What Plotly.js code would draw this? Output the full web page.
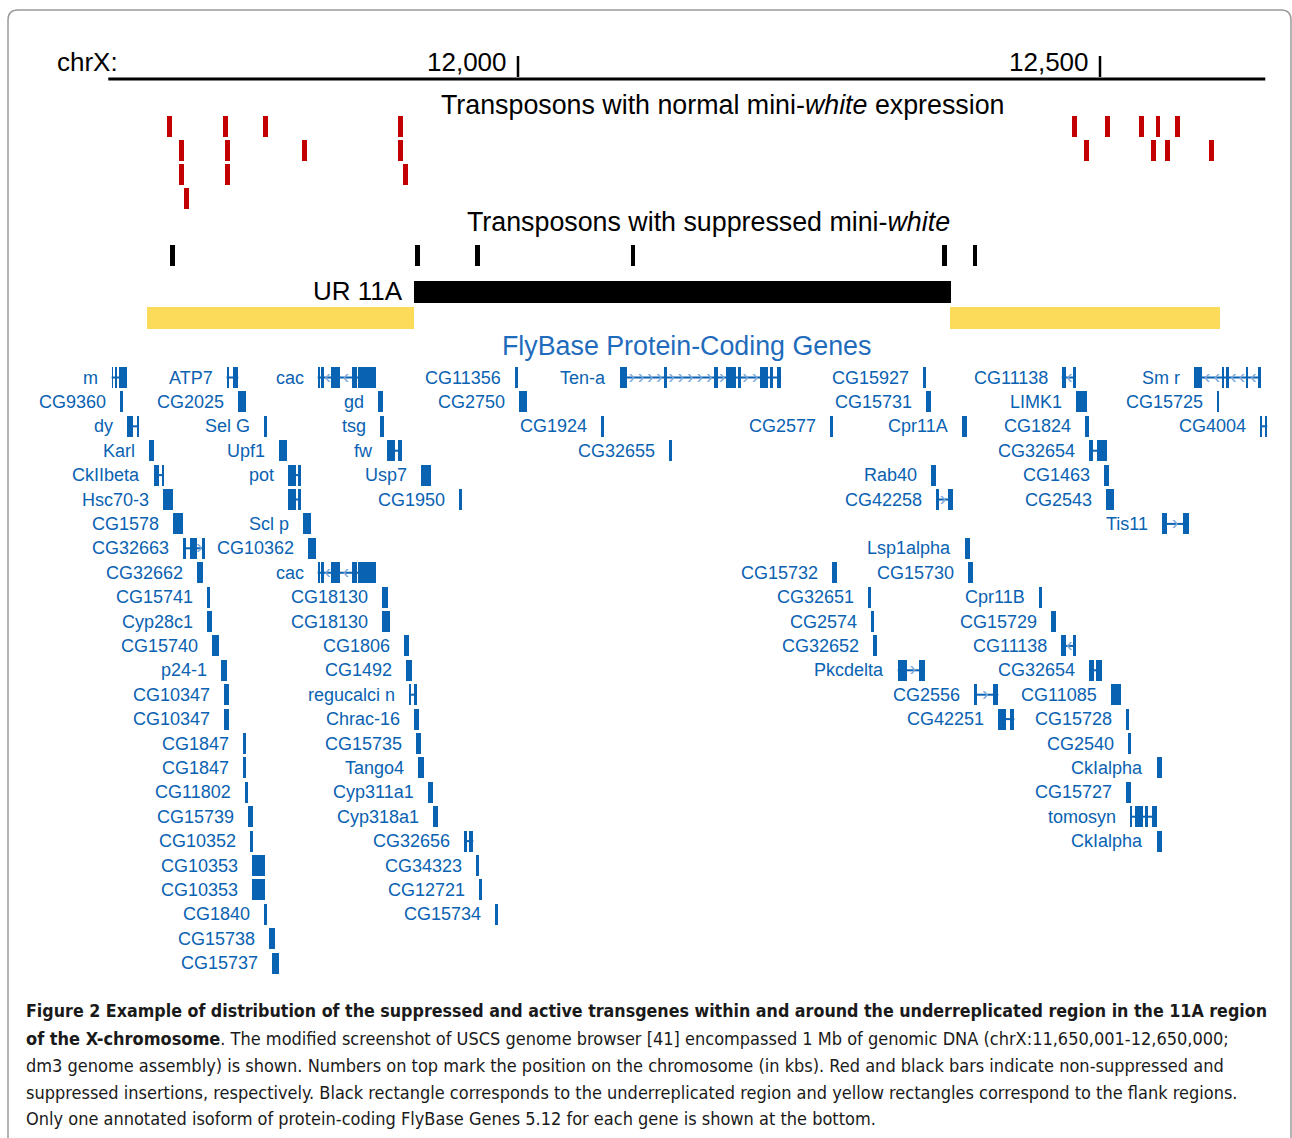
<!DOCTYPE html>
<html><head><meta charset="utf-8">
<script src="https://cdn.plot.ly/plotly-3.0.1.min.js"></script>
<style>html,body{margin:0;padding:0;background:#fff}#chart{width:1292px;height:1138px}</style>
</head><body><div id="chart"></div>
<script>
// ---------------- DATA (positions in kb on chrX) ----------------
const rulerKb = [11648, 12642];
const tickKb = [12000, 12500];
const tickLabels = ['12,000', '12,500'];

// transposons with normal mini-white expression (red), stack row 1..4
const normalKb  = [11700.7, 11711.0, 11711.0, 11715.3, 11748.7, 11750.5, 11750.5, 11782.9, 11816.8, 11899.1, 11899.1, 11903.4,
                   12478.1, 12488.4, 12506.6, 12535.8, 12546.1, 12549.8, 12557.9, 12566.8, 12596.0];
const normalRow = [1, 2, 3, 4, 1, 2, 3, 1, 2, 1, 2, 3,
                   1, 2, 1, 1, 2, 1, 2, 1, 2];
// transposons with suppressed mini-white (black)
const suppressedKb = [11703.2, 11913.7, 11965.3, 12098.8, 12366.6, 12392.6];
// underreplicated region UR 11A and flanks
const urKb = [11910.8, 12372.0];
const flankStartKb = [11681.4, 12371.1];
const flankEndKb   = [11910.8, 12602.7];

// FlyBase protein-coding genes: name, track row, exons [start, end] kb, strand
const geneNames = [
 'm','CG9360','dy','Karl','CkIIbeta','Hsc70-3','CG1578','CG32663','CG32662','CG15741','Cyp28c1','CG15740','p24-1',
 'CG10347','CG10347','CG1847','CG1847','CG11802','CG15739','CG10352','CG10353','CG10353','CG1840','CG15738','CG15737',
 'ATP7','CG2025','Sel G','Upf1','pot','','Scl p','CG10362','cac','cac','CG18130','CG18130','CG1806','CG1492',
 'regucalci n','Chrac-16','CG15735','Tango4','Cyp311a1','Cyp318a1','CG32656','CG34323','CG12721','CG15734',
 'gd','tsg','fw','Usp7','CG1950','CG11356','CG2750','CG1924','CG32655','Ten-a',
 'CG15927','CG15731','CG2577','Cpr11A','Rab40','CG42258','Lsp1alpha','CG15732','CG15730','CG32651','CG2574','CG32652',
 'Pkcdelta','CG2556','CG42251',
 'CG11138','LIMK1','CG1824','CG32654','CG1463','CG2543','Tis11','Cpr11B','CG15729','CG11138','CG32654','CG11085',
 'CG15728','CG2540','CkIalpha','CG15727','tomosyn','CkIalpha','Sm r','CG15725','CG4004'];
const geneRows = [
 0,1,2,3,4,5,6,7,8,9,10,11,12,
 13,14,15,16,17,18,19,20,21,22,23,24,
 0,1,2,3,4,5,6,7,0,8,9,10,11,12,
 13,14,15,16,17,18,19,20,21,22,
 1,2,3,4,5,0,1,2,3,0,
 0,1,2,2,4,5,7,8,8,9,10,11,
 12,13,14,
 0,1,2,3,4,5,6,9,10,11,12,13,
 14,15,16,17,18,19,0,1,2];
const geneExons = [
 [[11650.9,11652.2],[11653.8,11655.5],[11657.5,11663.8]],
 [[11658.1,11660.4]],
 [[11664.3,11669.5],[11672.4,11674.4]],
 [[11683.0,11687.0]],
 [[11687.3,11691.8],[11693.9,11695.9]],
 [[11695.3,11703.3]],
 [[11703.9,11712.5]],
 [[11712.5,11714.5],[11718.2,11724.0],[11728.3,11731.1]],
 [[11724.0,11729.6]],
 [[11733.1,11735.4]],
 [[11733.1,11737.1]],
 [[11737.1,11743.1]],
 [[11744.8,11749.7]],
 [[11747.4,11751.7]],
 [[11747.4,11751.7]],
 [[11763.5,11766.3]],
 [[11763.5,11766.3]],
 [[11765.5,11768.0]],
 [[11768.0,11772.1]],
 [[11769.8,11772.1]],
 [[11771.7,11782.6]],
 [[11771.7,11782.6]],
 [[11781.8,11784.1]],
 [[11786.3,11791.2]],
 [[11788.7,11794.7]],
 [[11749.7,11751.7],[11755.4,11759.7]],
 [[11759.7,11766.3]],
 [[11782.0,11784.1]],
 [[11794.9,11801.3]],
 [[11802.7,11809.3],[11811.3,11813.6]],
 [[11802.7,11809.3],[11811.3,11813.6]],
 [[11815.5,11822.2]],
 [[11819.8,11826.5]],
 [[11827.9,11829.9],[11830.8,11833.3],[11839.6,11847.3],[11857.1,11861.4],[11862.8,11878.0]],
 [[11827.9,11829.9],[11830.8,11833.3],[11839.6,11847.3],[11857.1,11861.4],[11862.8,11878.0]],
 [[11883.4,11888.3]],
 [[11883.4,11890.0]],
 [[11902.3,11906.4]],
 [[11903.8,11908.7]],
 [[11906.4,11908.5],[11910.6,11913.0]],
 [[11910.9,11915.0]],
 [[11912.4,11916.7]],
 [[11914.1,11919.2]],
 [[11922.9,11927.2]],
 [[11927.2,11931.5]],
 [[11953.6,11955.9],[11958.2,11961.6]],
 [[11963.9,11966.5]],
 [[11966.5,11969.1]],
 [[11980.2,11982.8]],
 [[11880.0,11883.8]],
 [[11881.4,11885.3]],
 [[11887.7,11894.3],[11897.2,11900.1]],
 [[11916.7,11925.0]],
 [[11949.3,11951.9]],
 [[11997.4,12000.3]],
 [[12001.1,12007.5]],
 [[12071.3,12073.9]],
 [[12129.7,12132.3]],
 [[12087.6,12093.9],[12125.4,12127.8],[12168.4,12172.1],[12178.7,12187.3],[12189.3,12191.3],[12207.9,12215.0],[12216.5,12219.3],[12222.8,12225.7]],
 [[12347.7,12350.5]],
 [[12350.5,12354.6]],
 [[12268.0,12270.9]],
 [[12381.4,12385.5]],
 [[12354.8,12358.9]],
 [[12359.1,12361.4],[12369.2,12373.5]],
 [[12384.0,12388.3]],
 [[12269.5,12274.3]],
 [[12386.9,12391.2]],
 [[12300.4,12303.3]],
 [[12303.3,12305.8]],
 [[12304.7,12308.2]],
 [[12326.2,12333.9],[12344.5,12349.7]],
 [[12392.0,12394.6],[12408.3,12412.6]],
 [[12412.6,12419.2],[12422.7,12426.4]],
 [[12467.1,12470.8],[12476.5,12479.1]],
 [[12479.1,12488.6]],
 [[12487.1,12490.8]],
 [[12490.8,12494.2],[12497.2,12505.8]],
 [[12503.7,12508.0]],
 [[12505.2,12512.0]],
 [[12553.5,12557.3],[12571.6,12576.5]],
 [[12447.6,12449.9]],
 [[12457.9,12462.2]],
 [[12466.5,12470.4],[12476.8,12479.4]],
 [[12490.8,12494.9],[12496.6,12501.5]],
 [[12509.5,12518.0]],
 [[12522.3,12524.9]],
 [[12524.3,12526.6]],
 [[12549.2,12553.0]],
 [[12522.3,12526.4]],
 [[12525.8,12527.8],[12530.1,12537.2],[12538.7,12541.0],[12544.4,12548.7]],
 [[12549.2,12553.0]],
 [[12581.0,12587.9],[12604.5,12606.5],[12608.3,12610.8],[12625.4,12627.4],[12636.0,12638.1]],
 [[12600.3,12602.5]],
 [[12637.5,12639.2],[12641.5,12643.7]]];
const geneStrand = {
 'ATP7':'>','CG32663':'>','cac':'<','fw':'<','Ten-a':'>','CG42258':'>','Pkcdelta':'>','CG2556':'>',
 'CG11138':'<','Tis11':'>','Sm r':'<','tomosyn':'>'};

const captionLines = [
 '<b>Figure 2 Example of distribution of the suppressed and active transgenes within and around the underreplicated region in the 11A region</b>',
 '<b>of the X-chromosome</b>. The modified screenshot of USCS genome browser [41] encompassed 1 Mb of genomic DNA (chrX:11,650,001-12,650,000;',
 'dm3 genome assembly) is shown. Numbers on top mark the position on the chromosome (in kbs). Red and black bars indicate non-suppressed and',
 'suppressed insertions, respectively. Black rectangle corresponds to the underreplicated region and yellow rectangles correspond to the flank regions.',
 'Only one annotated isoform of protein-coding FlyBase Genes 5.12 for each gene is shown at the bottom.'];

// ---------------- STYLE / LAYOUT ----------------
const W = 1292, H = 1138;
const PX_PER_KB = 1.164, KB0_PX = 518;   // 12,000 kb sits at 518 px
const xRange = [12000 - KB0_PX / PX_PER_KB, 12000 + (W - KB0_PX) / PX_PER_KB];
const ROW0 = 377.5, ROW_STEP = 24.4;
const rowY = r => ROW0 + r * ROW_STEP;
const insRowY = r => 126 + (r - 1) * 24;
const INS_HALF = 2.1;     // kb half-width of insertion marks
const BLUE = '#0a62b2', CHEV = '#7ca8da', RED = '#c30000', YELLOW = '#fddb5a';
const FONT = 'Liberation Sans, Arial, Helvetica, sans-serif';
const CAPFONT = 'Liberation Sans Narrow, Arial Narrow, DejaVu Sans Condensed, sans-serif';

const traces = [];
// ruler
traces.push({type:'scatter', mode:'lines', x: rulerKb, y: [79, 79], line:{color:'#000', width:3}, hoverinfo:'skip'});
const tx = [], ty = [];
tickKb.forEach(k => { tx.push(k, k, null); ty.push(56, 77, null); });
traces.push({type:'scatter', mode:'lines', x: tx, y: ty, line:{color:'#000', width:2.5}, hoverinfo:'skip'});

// insertion marks
traces.push({type:'bar', orientation:'h', base: normalKb.map(k => k - INS_HALF), x: normalKb.map(() => 2*INS_HALF),
  y: normalRow.map(insRowY), width: normalKb.map(() => 21), marker:{color: RED}, hoverinfo:'skip'});
traces.push({type:'bar', orientation:'h', base: suppressedKb.map(k => k - INS_HALF), x: suppressedKb.map(() => 2*INS_HALF),
  y: suppressedKb.map(() => 255), width: suppressedKb.map(() => 21), marker:{color:'#000'}, hoverinfo:'skip'});
// UR region and flanks
traces.push({type:'bar', orientation:'h', base:[urKb[0]], x:[urKb[1]-urKb[0]], y:[292], width:[22], marker:{color:'#000'}, hoverinfo:'skip'});
traces.push({type:'bar', orientation:'h', base: flankStartKb, x: flankStartKb.map((s,i) => flankEndKb[i]-s),
  y: flankStartKb.map(() => 318), width: flankStartKb.map(() => 22), marker:{color: YELLOW}, hoverinfo:'skip'});

// genes
const lx = [], ly = [], eb = [], ex = [], ey = [], ew = [], cx = [], cy = [], ct = [];
geneExons.forEach((exs, i) => {
  const y = rowY(geneRows[i]);
  const s = exs[0][0], e = exs[exs.length - 1][1];
  if (exs.length > 1) { lx.push(s, e, null); ly.push(y, y, null); }
  exs.forEach(([a, b]) => { eb.push(a); ex.push(b - a); ey.push(y); ew.push(21); });
  const st = geneStrand[geneNames[i]];
  if (st) {
    for (let k = 0; k < exs.length - 1; k++) {
      const a = exs[k][1], b = exs[k + 1][0], L = b - a;
      if (L < 4) continue;
      const n = Math.max(1, Math.floor(L / 7.2));
      for (let j = 0; j < n; j++) { cx.push(a + L * (j + 0.5) / n); cy.push(y); ct.push(st === '>' ? '›' : '‹'); }
    }
  }
});
traces.push({type:'scatter', mode:'lines', x: lx, y: ly, line:{color: BLUE, width:2}, hoverinfo:'skip'});
traces.push({type:'scatter', mode:'text', x: cx, y: cy, text: ct, textposition:'middle center',
  textfont:{family: FONT, size: 20, color: CHEV}, hoverinfo:'skip'});
traces.push({type:'bar', orientation:'h', base: eb, x: ex, y: ey, width: ew, marker:{color: BLUE}, hoverinfo:'skip'});

// annotations
const ann = [];
const big = {family: FONT, size: 26, color:'#000'};
const title = {family: FONT, size: 26.8, color:'#000'};
ann.push({xref:'paper', yref:'y', x: 120/W, y: 62, xanchor:'right', yanchor:'middle', text:'chrX:', showarrow:false, font: big});
tickKb.forEach((k, i) => ann.push({xref:'x', yref:'y', x: k, y: 62, xanchor:'right', yanchor:'middle', xshift:-9,
  text: tickLabels[i], showarrow:false, font: big}));
ann.push({xref:'paper', yref:'y', x: 722.5/W, y: 105, xanchor:'center', yanchor:'middle',
  text:'Transposons with normal mini-<i>white</i> expression', showarrow:false, font: title});
ann.push({xref:'paper', yref:'y', x: 708/W, y: 222, xanchor:'center', yanchor:'middle',
  text:'Transposons with suppressed mini-<i>white</i>', showarrow:false, font: title});
ann.push({xref:'x', yref:'y', x: urKb[0], y: 291, xanchor:'right', yanchor:'middle', xshift:-9,
  text:'UR 11A', showarrow:false, font: big});
ann.push({xref:'paper', yref:'y', x: 686/W, y: 346, xanchor:'center', yanchor:'middle',
  text:'FlyBase Protein-Coding Genes', showarrow:false, font:{family: FONT, size: 26.8, color:'#1f6cbc'}});
geneNames.forEach((nm, i) => {
  if (!nm) return;
  ann.push({xref:'x', yref:'y', x: geneExons[i][0][0], y: rowY(geneRows[i]), xanchor:'right', yanchor:'middle', xshift:-12,
    text: nm, showarrow:false, font:{family: FONT, size: 18, color: BLUE}});
});
const capY = [1011, 1038, 1065, 1092, 1118];
const capSize = [17.7, 18, 18, 18, 18];
captionLines.forEach((t, i) => ann.push({xref:'paper', yref:'y', x: 24/W, y: capY[i], xanchor:'left', yanchor:'middle',
  text: t, showarrow:false, font:{family: CAPFONT, size: capSize[i], color:'#1a1a1a'}}));

const fx = v => v / W;
const framePath = `M ${fx(8)},1160 L ${fx(8)},20 Q ${fx(8)},10 ${fx(18)},10 L ${fx(1281)},10 Q ${fx(1291)},10 ${fx(1291)},20 L ${fx(1291)},1160`;

const layout = {
  width: W, height: H, margin:{l:0, r:0, t:0, b:0, pad:0},
  paper_bgcolor:'#fff', plot_bgcolor:'#fff', showlegend:false, barmode:'overlay', bargap:0,
  xaxis:{range: xRange, visible:false, fixedrange:true},
  yaxis:{range:[H, 0], visible:false, fixedrange:true},
  annotations: ann,
  shapes:[{type:'path', xref:'paper', yref:'y', path: framePath, line:{color:'#9a9a9a', width:1.5}, fillcolor:'rgba(0,0,0,0)'}]
};
Plotly.newPlot('chart', traces, layout, {staticPlot:true, displayModeBar:false});
</script>
</body></html>
